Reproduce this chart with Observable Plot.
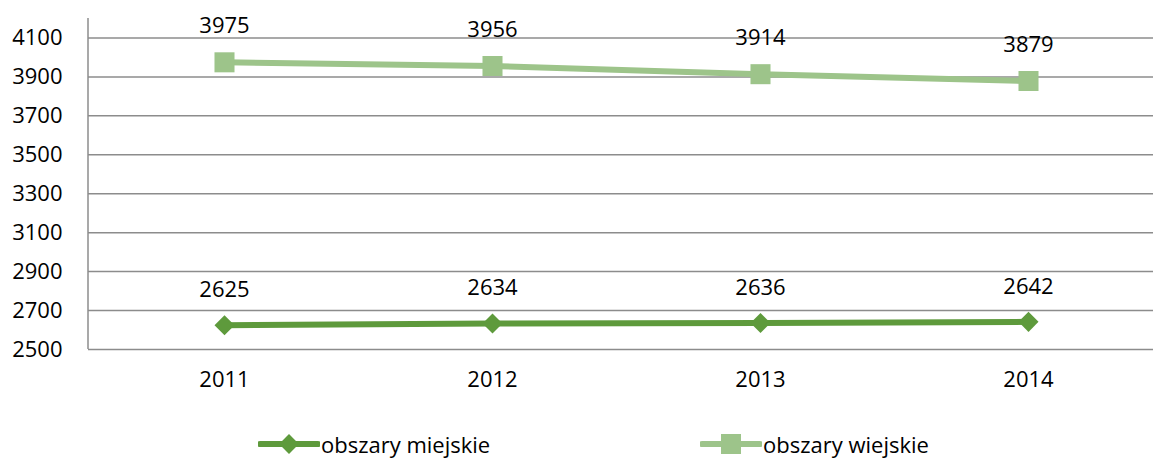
<!DOCTYPE html>
<html>
<head>
<meta charset="utf-8">
<script src="https://cdn.jsdelivr.net/npm/d3@7"></script>
<script src="https://cdn.jsdelivr.net/npm/@observablehq/plot@0.6"></script>
<style>
  body { margin: 0; background: #fff; font-family: "Open Sans", sans-serif; }
  #wrap { position: relative; width: 1153px; height: 460px; }
  #legend { position: absolute; top: 428px; left: 0; width: 1153px; height: 32px; font-size: 22px; color: #000; }
  .item { position: absolute; top: 0; display: flex; align-items: center; }
  .item svg { display: block; }
</style>
</head>
<body>
<div id="wrap">
  <div id="chart"></div>
  <div id="legend"></div>
</div>
<script>
const years = ["2011", "2012", "2013", "2014"];
const urban = [2625, 2634, 2636, 2642];
const rural = [3975, 3956, 3914, 3879];
const seriesNames = ["obszary miejskie", "obszary wiejskie"];
const yTicks = [2500, 2700, 2900, 3100, 3300, 3500, 3700, 3900, 4100];
const darkGreen = "#5e9a3c";
const lightGreen = "#9dc48a";

const urbanData = years.map((y, i) => ({year: y, value: urban[i]}));
const ruralData = years.map((y, i) => ({year: y, value: rural[i]}));

const chart = Plot.plot({
  width: 1153,
  height: 410,
  marginLeft: 88,
  marginRight: 0,
  marginTop: 18,
  marginBottom: 61,
  style: {fontFamily: "Open Sans, sans-serif", fontSize: "22px", color: "#000", background: "#fff"},
  x: {type: "point", domain: years, range: [223, 1029], padding: 0, label: null},
  y: {domain: [2500, 4200], ticks: yTicks, label: null},
  marks: [
    Plot.ruleY(yTicks, {stroke: "#8c8c8c", strokeWidth: 1.5}),
    Plot.axisY({ticks: yTicks, tickSize: 0, tickPadding: 26, fontSize: 22, tickFormat: d => String(d), label: null}),
    Plot.axisX({tickSize: 0, tickPadding: 22, fontSize: 22, label: null}),
    Plot.line(urbanData, {x: "year", y: "value", stroke: darkGreen, strokeWidth: 6}),
    Plot.dot(urbanData, {x: "year", y: "value", symbol: "square", r: 8, rotate: 45, fill: darkGreen, stroke: "none"}),
    Plot.line(ruralData, {x: "year", y: "value", stroke: lightGreen, strokeWidth: 6}),
    Plot.dot(ruralData, {x: "year", y: "value", symbol: "square", r: 11.3, fill: lightGreen, stroke: "none"}),
    Plot.text(urbanData, {x: "year", y: "value", text: d => String(d.value), dy: -35, fontSize: 22, fill: "#000"}),
    Plot.text(ruralData, {x: "year", y: "value", text: d => String(d.value), dy: -36, fontSize: 22, fill: "#000"})
  ]
});
document.getElementById("chart").appendChild(chart);

// y axis line
d3.select(chart).append("line")
  .attr("x1", 88).attr("x2", 88).attr("y1", 18).attr("y2", 349)
  .attr("stroke", "#8c8c8c").attr("stroke-width", 1.5);

// legend
const legend = d3.select("#legend");
const items = [
  {name: seriesNames[0], color: darkGreen, shape: "diamond", left: 258},
  {name: seriesNames[1], color: lightGreen, shape: "square", left: 700}
];
for (const it of items) {
  const div = legend.append("div").attr("class", "item").style("left", it.left + "px");
  const s = div.append("svg").attr("width", 62).attr("height", 32);
  s.append("line").attr("x1", 2).attr("x2", 60).attr("y1", 16).attr("y2", 16)
    .attr("stroke", it.color).attr("stroke-width", 6).attr("stroke-linecap", "round");
  if (it.shape === "diamond") {
    s.append("rect").attr("x", 31 - 7).attr("y", 16 - 7).attr("width", 14).attr("height", 14)
      .attr("fill", it.color).attr("transform", "rotate(45 31 16)");
  } else {
    s.append("rect").attr("x", 31 - 10).attr("y", 16 - 10).attr("width", 20).attr("height", 20)
      .attr("fill", it.color);
  }
  div.append("span").text(it.name).style("line-height", "32px").style("margin-left", "1px");
}
</script>
</body>
</html>
